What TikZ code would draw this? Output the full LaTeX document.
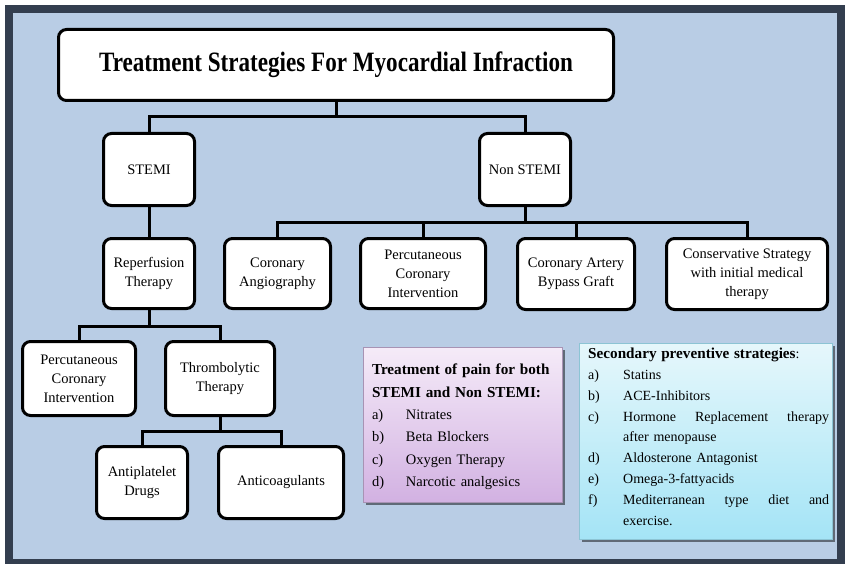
\documentclass[tikz,border=0pt]{standalone}
\usepackage{fontspec}
\usepackage{graphicx}
\setmainfont{Liberation Serif}
\usetikzlibrary{shadows}
\definecolor{framecol}{HTML}{333E4F}
\definecolor{bgcol}{HTML}{B9CDE5}
\definecolor{pinktop}{HTML}{F5EBF8}
\definecolor{pinkbot}{HTML}{D2B1E2}
\definecolor{pinkline}{HTML}{A893B4}
\definecolor{cyantop}{HTML}{E6F7FB}
\definecolor{cyanbot}{HTML}{A4E4F6}
\definecolor{cyanline}{HTML}{8CC4D4}
\begin{document}
\begin{tikzpicture}[x=1pt,y=-1pt]
\tikzset{
  box/.style={draw=black, line width=3pt, rounded corners=8pt, fill=white, align=center,
    font=\fontsize{14.5}{19}\selectfont, inner sep=2pt},
  conn/.style={draw=black, line width=3pt},
  pinkbox/.style={draw=pinkline, line width=0.8pt, top color=pinktop, bottom color=pinkbot,
    drop shadow={shadow xshift=2.5pt, shadow yshift=-2.5pt, fill=black!60!bgcol, opacity=0.8}},
  cyanbox/.style={draw=cyanline, line width=0.8pt, top color=cyantop, bottom color=cyanbot,
    drop shadow={shadow xshift=2.5pt, shadow yshift=-2.5pt, fill=black!60!bgcol, opacity=0.8}},
  listtext/.style={inner sep=0pt, align=left, anchor=north west},
}
\useasboundingbox (0,0) rectangle (848,564);
\fill[framecol] (5,5) rectangle (845,564);
\fill[bgcol] (13,13) rectangle (837,559);

% title
\node[box, minimum width=555pt, minimum height=71pt] (title) at (336,65)
  {\scalebox{0.825}[1]{\fontsize{28}{30}\selectfont\bfseries Treatment Strategies For Myocardial Infraction}};

% level 1
\node[box, minimum width=91pt, minimum height=72pt] (stemi) at (149,169.5) {STEMI};
\node[box, minimum width=91pt, minimum height=72pt] (nstemi) at (525,169.5) {Non STEMI};

% level 2
\node[box, minimum width=91pt, minimum height=70pt] (reperf) at (149,273.5) {Reperfusion\\Therapy};
\node[box, minimum width=106pt, minimum height=70pt] (angio) at (277.5,273.5) {Coronary\\Angiography};
\node[box, minimum width=125pt, minimum height=70pt] (pcin) at (423,273.5) {Percutaneous\\Coronary\\Intervention};
\node[box, minimum width=117pt, minimum height=71pt] (cabg) at (576,274) {Coronary Artery\\Bypass Graft};
\node[box, minimum width=161pt, minimum height=71pt] (cons) at (747,274) {Conservative Strategy\\with initial medical\\therapy};

% level 3
\node[box, minimum width=113pt, minimum height=74pt] (pcis) at (79,378.5) {Percutaneous\\Coronary\\Intervention};
\node[box, minimum width=109pt, minimum height=74pt] (thromb) at (220,378.5) {Thrombolytic\\Therapy};

% level 4
\node[box, minimum width=91pt, minimum height=72pt] (antip) at (142,482.5) {Antiplatelet\\Drugs};
\node[box, minimum width=125pt, minimum height=72pt] (antic) at (281,482.5) {Anticoagulants};

% junction levels
\coordinate (j1) at (0,117);
\coordinate (j2) at (0,222);
\coordinate (j3) at (0,326);
\coordinate (j4) at (0,431);

\draw[conn] (title.south) -- (title.south |- j1) -| (stemi.north);
\draw[conn] (title.south |- j1) -| (nstemi.north);
\draw[conn] (stemi.south) -- (reperf.north);
\draw[conn] (nstemi.south) -- (nstemi.south |- j2) -| (angio.north);
\draw[conn] (nstemi.south |- j2) -| (pcin.north);
\draw[conn] (nstemi.south |- j2) -| (cabg.north);
\draw[conn] (nstemi.south |- j2) -| (cons.north);
\draw[conn] (reperf.south) -- (reperf.south |- j3) -| (pcis.north);
\draw[conn] (reperf.south |- j3) -| (thromb.north);
\draw[conn] (thromb.south) -- (thromb.south |- j4) -| (antip.north);
\draw[conn] (thromb.south |- j4) -| (antic.north);

% pink box
\node[pinkbox, minimum width=199pt, minimum height=155pt] (pink) at (463,425) {};
\node[inner sep=0pt, align=left, text width=182pt, font=\fontsize{14.5}{22.4}\selectfont] (pinktext) at ([yshift=-2pt]pink.center)
  {{\bfseries\fontsize{15.2}{22.4}\selectfont Treatment of pain for both\\STEMI and Non STEMI:}\\
   \makebox[34pt][l]{a)}Nitrates\\
   \makebox[34pt][l]{b)}Beta Blockers\\
   \makebox[34pt][l]{c)}Oxygen Therapy\\
   \makebox[34pt][l]{d)}Narcotic analgesics};

% cyan box
\node[cyanbox, minimum width=253pt, minimum height=196pt] (cyan) at (706,441.5) {};
\node[listtext, text width=245pt, font=\fontsize{14}{20.8}\selectfont] (cyantext) at (588,348)
  {{\bfseries\fontsize{15.2}{20.8}\selectfont Secondary preventive strategies}:\\
   \makebox[35pt][l]{a)}Statins\\
   \makebox[35pt][l]{b)}ACE-Inhibitors\\
   \makebox[35pt][l]{c)}\makebox[206pt][l]{Hormone\hfill Replacement\hfill therapy}\\
   \hspace*{35pt}after menopause\\
   \makebox[35pt][l]{d)}Aldosterone Antagonist\\
   \makebox[35pt][l]{e)}Omega-3-fattyacids\\
   \makebox[35pt][l]{f)}\makebox[206pt][l]{Mediterranean\hfill type\hfill diet\hfill and}\\
   \hspace*{35pt}exercise.};
\end{tikzpicture}
\end{document}
